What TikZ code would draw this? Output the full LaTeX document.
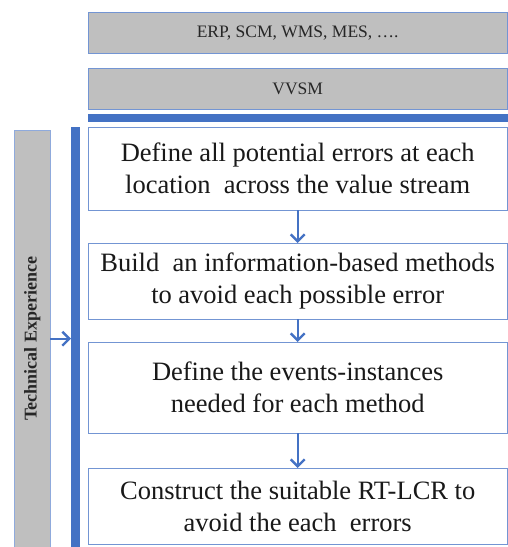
\documentclass[tikz,border=0pt]{standalone}
\usepackage{fontspec}
\setmainfont{Liberation Serif}
\newfontfamily\timesfont{Liberation Serif}
\usetikzlibrary{arrows.meta, positioning}
\definecolor{boxblue}{RGB}{68,114,196}
\definecolor{boxgray}{RGB}{191,191,191}

\begin{document}
\begin{tikzpicture}[x=1pt, y=-1pt,
	sysbox/.style={draw=boxblue!75, fill=boxgray, anchor=north west, minimum width=419pt, minimum height=41pt, inner sep=0pt, text=black!85, font=\timesfont\fontsize{17.5}{19}\selectfont},
	stepbox/.style={draw=boxblue!75, fill=white, anchor=north west, minimum width=419pt, inner sep=0pt, align=center, text=black!90, font=\timesfont\fontsize{26.5}{32}\selectfont},
	barbox/.style={fill=boxblue, anchor=north west, inner sep=0pt},
	flow/.style={boxblue, line width=2.4pt, -{Straight Barb[length=7pt, width=14pt]}}]
		\useasboundingbox (0,0) rectangle (508,547);
		\clip (0,0) rectangle (508,547);
		
		% systems on top
		\node [sysbox] (erp) at (88,12) {ERP, SCM, WMS, MES, \dots.};
		\node [sysbox] (vvsm) at (88,68) {VVSM};
		\node [barbox, minimum width=420pt, minimum height=8pt] (hbar) at (88,114) {};
		
		% left side
		\node [draw=boxblue!60, fill=boxgray, anchor=north west, minimum width=36pt, minimum height=417pt, inner sep=0pt] (tech) at (14,130) {};
		\node [rotate=90, text=black!85, font=\timesfont\bfseries\fontsize{18}{20}\selectfont] (techlabel) at (tech.center) {Technical Experience};
		\node [barbox, minimum width=9pt, minimum height=430pt] (vbar) at (71,127) {};
		
		% steps
		\node [stepbox, minimum height=83pt] (define) at (88,127) {Define all potential errors at each\\location~ across the value stream};
		\node [stepbox, minimum height=76pt] (build) at (88,243) {Build~ an information-based methods\\to avoid each possible error};
		\node [stepbox, minimum height=91pt] (events) at (88,342) {Define the events-instances\\needed for each method};
		\node [stepbox, minimum height=76pt] (construct) at (88,468) {Construct the suitable RT-LCR to\\avoid the each~ errors};
		
		\draw [flow] (define) -- (build);
		\draw [flow] (build) -- (events);
		\draw [flow] (events) -- (construct);
		\draw [flow] (tech.east) -- (tech.east -| vbar.west);
	\end{tikzpicture}
\end{document}
